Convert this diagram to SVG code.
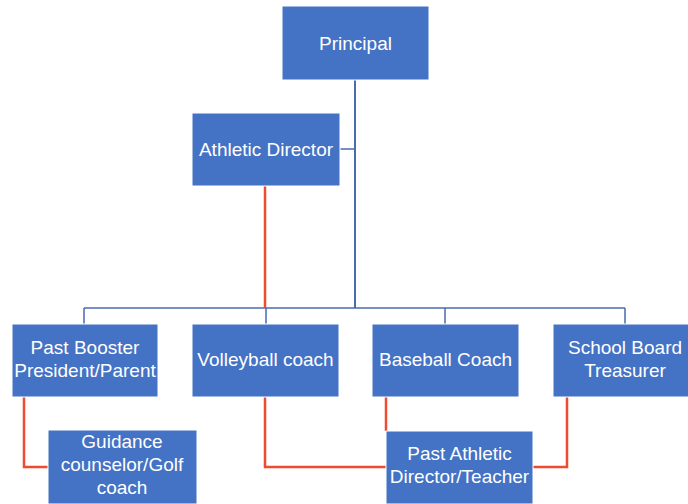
<svg xmlns="http://www.w3.org/2000/svg" width="688" height="504" viewBox="0 0 688 504">
  <style>
    .box { fill: #4472C4; stroke: #ffffff; stroke-width: 1; }
    .lbl { fill: #ffffff; font-family: "Liberation Sans", Arial, sans-serif; font-size: 19px; text-anchor: middle; }
    .blue { fill: none; stroke: #4A6BAE; stroke-width: 2; }
    .thin { fill: none; stroke: #4A6BAE; stroke-width: 1.5; }
    .red { fill: none; stroke: #EE4B30; stroke-width: 2.5; }
  </style>
  <rect width="688" height="504" fill="#ffffff"/>

  <g id="connectors">
    <!-- reporting lines (blue) -->
    <path class="blue" d="M355 80 V308"/>
    <path class="thin" d="M340 149 H355"/>
    <path class="thin" d="M84 308 H625"/>
    <path class="thin" d="M84 308 V324 M266 308 V324 M445 308 V324 M625 308 V324"/>
    <!-- secondary links (red) -->
    <path class="red" d="M265 186 V308"/>
    <path class="red" d="M24 397 V467 H48"/>
    <path class="red" d="M265 397 V467 H386"/>
    <path class="red" d="M386 397 V431"/>
    <path class="red" d="M567 397 V467 H533"/>
  </g>

  <g id="principal">
    <rect class="box" x="282" y="6" width="147" height="74"/>
    <text class="lbl" x="355.5" y="49.5">Principal</text>
  </g>

  <g id="athletic-director">
    <rect class="box" x="192" y="113" width="148" height="73"/>
    <text class="lbl" x="266" y="156">Athletic Director</text>
  </g>

  <g id="past-booster">
    <rect class="box" x="12" y="324" width="146" height="73"/>
    <text class="lbl" x="85" y="354">Past Booster</text>
    <text class="lbl" x="85" y="377">President/Parent</text>
  </g>

  <g id="volleyball-coach">
    <rect class="box" x="192" y="324" width="147" height="73"/>
    <text class="lbl" x="265.5" y="366">Volleyball coach</text>
  </g>

  <g id="baseball-coach">
    <rect class="box" x="372" y="324" width="147" height="73"/>
    <text class="lbl" x="445.5" y="366">Baseball Coach</text>
  </g>

  <g id="school-board-treasurer">
    <rect class="box" x="553" y="324" width="148" height="73"/>
    <text class="lbl" x="625" y="354">School Board</text>
    <text class="lbl" x="625" y="377">Treasurer</text>
  </g>

  <g id="guidance-counselor">
    <rect class="box" x="48" y="430" width="149" height="74"/>
    <text class="lbl" x="122" y="448">Guidance</text>
    <text class="lbl" x="122" y="471">counselor/Golf</text>
    <text class="lbl" x="122" y="494">coach</text>
  </g>

  <g id="past-athletic-director">
    <rect class="box" x="386" y="431" width="147" height="73"/>
    <text class="lbl" x="459.5" y="460">Past Athletic</text>
    <text class="lbl" x="459.5" y="483">Director/Teacher</text>
  </g>
</svg>
